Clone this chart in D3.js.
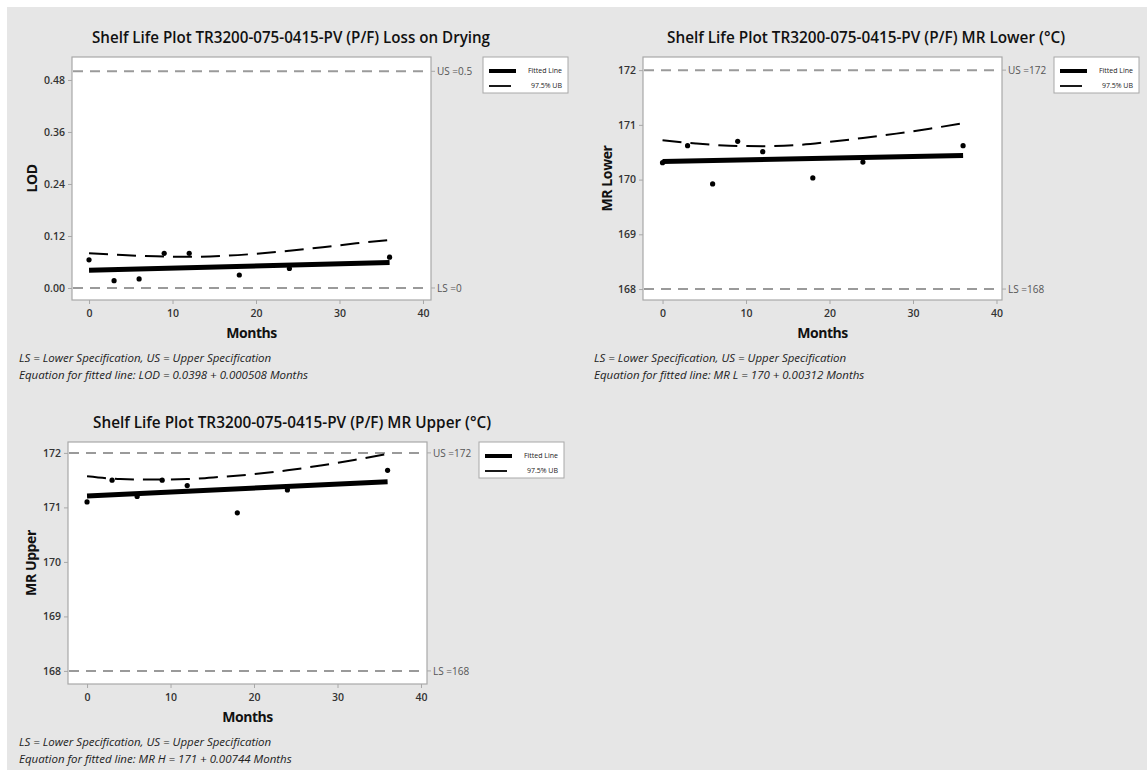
<!DOCTYPE html>
<html>
<head>
<meta charset="utf-8">
<script src="https://cdn.jsdelivr.net/npm/d3@7"></script>
<style>
body { margin: 0; background: #fff; }
svg { display: block; font-family: "Open Sans", "DejaVu Sans", sans-serif; }
</style>
</head>
<body>
<svg id="chart" width="1147" height="770"></svg>
<script>
// sample times (months) and the points where the 97.5% UB curve was read
var MONTHS = [0, 3, 6, 9, 12, 18, 24, 36];
var UB_MONTHS = [0, 4, 8, 12, 16, 20, 24, 28, 32, 36];
var FIT_MONTHS = [0, 36];
var X_TICKS = [0, 10, 20, 30, 40];

// Loss on Drying
var LOD_VALUES = [0.065, 0.017, 0.021, 0.080, 0.080, 0.030, 0.045, 0.071];
var LOD_FIT = [0.041, 0.059];
var LOD_UB = [0.080, 0.076, 0.073, 0.072, 0.074, 0.079, 0.086, 0.094, 0.103, 0.111];
var LOD_TICKS = [0, 0.12, 0.24, 0.36, 0.48];
var LOD_SPEC = [0, 0.5];

// MR Lower
var MRL_VALUES = [170.31, 170.62, 169.92, 170.70, 170.51, 170.03, 170.32, 170.62];
var MRL_FIT = [170.33, 170.44];
var MRL_UB = [170.72, 170.66, 170.62, 170.61, 170.63, 170.69, 170.76, 170.84, 170.93, 171.03];
var MRL_TICKS = [168, 169, 170, 171, 172];
var MRL_SPEC = [168, 172];

// MR Upper
var MRH_VALUES = [171.10, 171.50, 171.20, 171.50, 171.40, 170.90, 171.32, 171.68];
var MRH_FIT = [171.21, 171.47];
var MRH_UB = [171.57, 171.52, 171.51, 171.52, 171.56, 171.61, 171.68, 171.77, 171.87, 171.98];
var MRH_TICKS = [168, 169, 170, 171, 172];
var MRH_SPEC = [168, 172];

var svg = d3.select("#chart");

svg.append("rect")
    .attr("x", 7).attr("y", 7)
    .attr("width", 1140).attr("height", 763)
    .style("fill", "#e6e6e6");

function drawPanel(p) {
    var g = svg.append("g");
    var x = d3.scaleLinear().domain(p.xDomain).range([p.left, p.right]);
    var y = d3.scaleLinear().domain(p.yDomain).range([p.bottom, p.top]);

    // title
    g.append("text")
        .attr("x", p.titleX).attr("y", p.top - 14)
        .attr("text-anchor", "middle")
        .attr("textLength", 398).attr("lengthAdjust", "spacingAndGlyphs")
        .style("font-size", "16px").style("font-weight", 600).style("fill", "#111")
        .text(p.title);

    // plot frame
    g.append("rect")
        .attr("x", p.left).attr("y", p.top)
        .attr("width", p.right - p.left).attr("height", p.bottom - p.top)
        .style("fill", "#fff").style("stroke", "#a8a8a8").style("stroke-width", 1.2);

    // axes
    var xAxis = g.append("g")
        .attr("transform", "translate(0," + p.bottom + ")")
        .call(d3.axisBottom(x).tickValues(X_TICKS).tickSize(4).tickSizeOuter(0));
    var yAxis = g.append("g")
        .attr("transform", "translate(" + p.left + ",0)")
        .call(d3.axisLeft(y).tickValues(p.yTicks).tickSize(4).tickSizeOuter(0).tickFormat(p.fmt));
    [xAxis, yAxis].forEach(function (a) {
        a.select(".domain").remove();
        a.selectAll(".tick line").style("stroke", "#a8a8a8");
        a.selectAll(".tick text")
            .style("font-family", "'Open Sans', sans-serif")
            .style("font-size", "10.5px").style("font-weight", 600).style("fill", "#333");
    });
    xAxis.selectAll(".tick text").attr("dy", "0.95em");

    // spec limits
    var specNames = ["LS =", "US ="];
    p.spec.forEach(function (s, i) {
        g.append("line")
            .attr("x1", p.left + 1).attr("x2", p.right - 1)
            .attr("y1", y(s)).attr("y2", y(s))
            .style("stroke", "#9a9a9a").style("stroke-width", 2)
            .style("stroke-dasharray", "10,7");
        g.append("line")
            .attr("x1", p.right).attr("x2", p.right + 4)
            .attr("y1", y(s)).attr("y2", y(s))
            .style("stroke", "#a8a8a8");
        g.append("text")
            .attr("x", p.right + 6).attr("y", y(s) + 4)
            .style("font-size", "10px").style("fill", "#555")
            .text(specNames[i] + p.specText[i]);
    });

    // 97.5% upper bound
    var ub = UB_MONTHS.map(function (m, i) { return [m, p.ub[i]]; });
    g.append("path")
        .datum(ub)
        .attr("d", d3.line().x(function (d) { return x(d[0]); }).y(function (d) { return y(d[1]); }).curve(d3.curveMonotoneX))
        .style("fill", "none").style("stroke", "#000").style("stroke-width", 2)
        .style("stroke-dasharray", "19,9");

    // fitted line
    var fit = FIT_MONTHS.map(function (m, i) { return [m, p.fit[i]]; });
    g.append("path")
        .datum(fit)
        .attr("d", d3.line().x(function (d) { return x(d[0]); }).y(function (d) { return y(d[1]); }))
        .style("fill", "none").style("stroke", "#000").style("stroke-width", 5);

    // observations
    g.selectAll("circle.obs")
        .data(p.values)
        .enter().append("circle")
        .attr("class", "obs")
        .attr("cx", function (d, i) { return x(MONTHS[i]); })
        .attr("cy", function (d) { return y(d); })
        .attr("r", 2.6)
        .style("fill", "#000");

    // axis titles
    g.append("text")
        .attr("x", (p.left + p.right) / 2).attr("y", p.bottom + 38)
        .attr("text-anchor", "middle")
        .style("font-size", "14px").style("font-weight", 700).style("fill", "#111")
        .style("letter-spacing", "-0.5px")
        .text("Months");
    g.append("text")
        .attr("transform", "translate(" + p.yLabelX + "," + (p.top + p.bottom) / 2 + ") rotate(-90)")
        .attr("text-anchor", "middle")
        .style("font-size", "14px").style("font-weight", 700).style("fill", "#111")
        .style("letter-spacing", "-0.4px")
        .text(p.yLabel);

    // legend
    var lx = p.right + 52, ly = p.top;
    g.append("rect")
        .attr("x", lx).attr("y", ly).attr("width", 85).attr("height", 36)
        .style("fill", "#fff").style("stroke", "#a8a8a8");
    g.append("line")
        .attr("x1", lx + 6).attr("x2", lx + 33).attr("y1", ly + 14).attr("y2", ly + 14)
        .style("stroke", "#000").style("stroke-width", 4);
    g.append("line")
        .attr("x1", lx + 6).attr("x2", lx + 28).attr("y1", ly + 29).attr("y2", ly + 29)
        .style("stroke", "#000").style("stroke-width", 1.8);
    g.append("text")
        .attr("x", lx + 79).attr("y", ly + 16).attr("text-anchor", "end")
        .style("font-size", "7px").style("fill", "#222").text("Fitted Line");
    g.append("text")
        .attr("x", lx + 79).attr("y", ly + 31).attr("text-anchor", "end")
        .style("font-size", "7px").style("fill", "#222").text("97.5% UB");

    // footnotes
    g.append("text")
        .attr("x", p.noteX).attr("y", p.bottom + 62)
        .style("font-size", "11.5px").style("font-style", "italic").style("fill", "#222")
        .text("LS = Lower Specification, US = Upper Specification");
    g.append("text")
        .attr("x", p.noteX).attr("y", p.bottom + 79)
        .style("font-size", "11.5px").style("font-style", "italic").style("fill", "#222")
        .text(p.equation);
}

drawPanel({
    title: "Shelf Life Plot TR3200-075-0415-PV (P/F) Loss on Drying",
    left: 72, right: 431, top: 57, bottom: 300, titleX: 291,
    xDomain: [-2.04, 40.96], yDomain: [-0.0277, 0.533],
    yTicks: LOD_TICKS, fmt: d3.format(".2f"),
    values: LOD_VALUES, fit: LOD_FIT, ub: LOD_UB,
    spec: LOD_SPEC, specText: ["0", "0.5"],
    yLabel: "LOD", yLabelX: 37, noteX: 19,
    equation: "Equation for fitted line: LOD = 0.0398 + 0.000508 Months"
});

drawPanel({
    title: "Shelf Life Plot TR3200-075-0415-PV (P/F) MR Lower (\u00B0C)",
    left: 643, right: 1002, top: 57, bottom: 300, titleX: 866,
    xDomain: [-2.34, 40.66], yDomain: [167.80, 172.24],
    yTicks: MRL_TICKS, fmt: d3.format("d"),
    values: MRL_VALUES, fit: MRL_FIT, ub: MRL_UB,
    spec: MRL_SPEC, specText: ["168", "172"],
    yLabel: "MR Lower", yLabelX: 612, noteX: 594,
    equation: "Equation for fitted line: MR L = 170 + 0.00312 Months"
});

drawPanel({
    title: "Shelf Life Plot TR3200-075-0415-PV (P/F) MR Upper (\u00B0C)",
    left: 68, right: 427, top: 442, bottom: 684, titleX: 292,
    xDomain: [-2.28, 40.72], yDomain: [167.76, 172.2],
    yTicks: MRH_TICKS, fmt: d3.format("d"),
    values: MRH_VALUES, fit: MRH_FIT, ub: MRH_UB,
    spec: MRH_SPEC, specText: ["168", "172"],
    yLabel: "MR Upper", yLabelX: 36, noteX: 19,
    equation: "Equation for fitted line: MR H = 171 + 0.00744 Months"
});
</script>
</body>
</html>
